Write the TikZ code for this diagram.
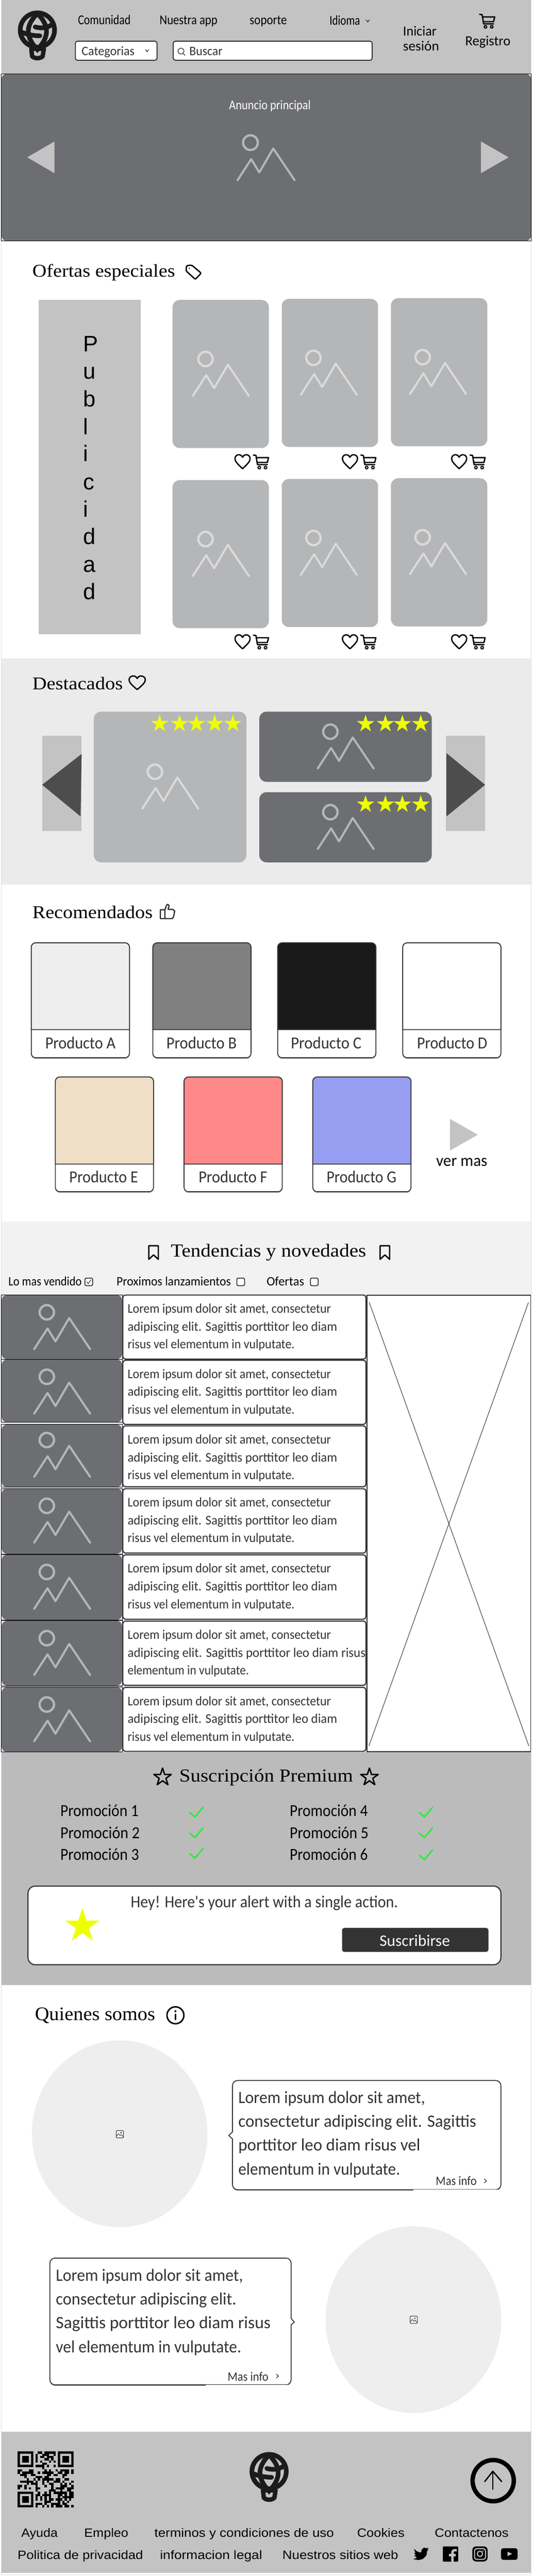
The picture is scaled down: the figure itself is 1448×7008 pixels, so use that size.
\documentclass[tikz,border=0pt]{standalone}
\usepackage{fontspec}
\setmainfont{Liberation Sans}
\newfontfamily\handf{Carlito}
\newfontfamily\serf{Liberation Serif}
\newfontfamily\sanf{Liberation Sans}
\definecolor{hdr}{HTML}{C3C3C3}
\definecolor{slate}{HTML}{6D6E71}
\definecolor{mid}{HTML}{B5B6B8}
\definecolor{pale}{HTML}{DADADA}
\definecolor{ink}{HTML}{333333}
\definecolor{logoc}{HTML}{1C1C1C}
\definecolor{destbg}{HTML}{EBEBEB}
\definecolor{trendbg}{HTML}{F2F2F2}
\definecolor{subbg}{HTML}{BBBBBB}
\definecolor{yel}{HTML}{EEFF00}
\definecolor{okgreen}{HTML}{22EE33}
\definecolor{blob}{HTML}{EEEEEE}
\definecolor{darkarrow}{HTML}{4D4D4D}
\definecolor{beigec}{HTML}{EFDFC7}
\definecolor{rosec}{HTML}{FF8888}
\definecolor{lavc}{HTML}{979DF0}
\definecolor{greyb}{HTML}{808080}
\definecolor{greyc}{HTML}{1A1A1A}
\newsavebox\fitbox
\newcounter{tn}
\newcommand\fitw[2]{\sbox\fitbox{#2}\pgfmathsetmacro\fitr{#1/\wd\fitbox}\scalebox{\fitr}[1]{\usebox\fitbox}}
\newcommand\hnd[1]{\handf\fontsize{#1}{#1}\selectfont}
\newcommand\srf[1]{\serf\fontsize{#1}{#1}\selectfont}
\newcommand\snf[1]{\sanf\fontsize{#1}{#1}\selectfont}
% [opts]{x}{baseline}{width}{font}{text}
\newcommand\lb[6][]{\stepcounter{tn}\node[lbl,#1] (t\thetn) at (#2,#3) {\fitw{#4}{#5#6}};}
\newcommand\imgicon[4]{\begin{scope}[shift={(#1,#2)},scale=#3]
 \draw[line width=6.2,color=#4] (35,23) circle (20);
 \draw[line width=5.6,color=#4,line cap=round,line join=round] (0,125)--(37,68)--(59,104)--(97,39)--(155,125);
\end{scope}}
\newcommand\logo[2]{\begin{scope}[shift={(#1,#2)},scale=1/3,line cap=round,color=logoc]
 \draw[line width=12.7] (215,185) circle (140);
 \draw[line width=12.7] (215,50) .. controls (116,150) and (116,240) .. (215,345) .. controls (314,240) and (314,150) .. (215,50);
 \draw[line width=12.7] (197,160) .. controls (240,172) and (290,172) .. (335,140);
 \draw[line width=12.7] (95,205) .. controls (130,222) and (180,232) .. (235,232);
 \draw[line width=12,line join=round] (165,338) -- (172,400) .. controls (195,420) and (235,420) .. (258,400) -- (268,338) -- cycle;
\end{scope}}
\newcommand\carticon[3]{\begin{scope}[shift={(#1,#2)},scale=#3,line join=round,line cap=round]
 \draw[line width=3.6] (0,1)--(7,2)--(11,27)--(38,27);
 \draw[line width=3.6] (8,8)--(41,8)--(38,21)--(10,21);
 \draw[line width=3] (16,35) circle (3.6);
 \draw[line width=3] (33,35) circle (3.6);
\end{scope}}
\newcommand\hearticon[4]{\begin{scope}[shift={(#1,#2)},xscale=#3,yscale=#4]
 \draw[line width=3.6,line join=round] (.5,1) .. controls (.1,.6) and (0,.45) .. (0,.27) .. controls (0,.08) and (.15,0) .. (.27,0) .. controls (.38,0) and (.46,.08) .. (.5,.18) .. controls (.54,.08) and (.62,0) .. (.73,0) .. controls (.85,0) and (1,.08) .. (1,.27) .. controls (1,.45) and (.9,.6) .. (.5,1) -- cycle;
\end{scope}}
\newcommand\starpath[2][]{\path[#1] (-90:#2)--(-54:.382*#2)--(-18:#2)--(18:.382*#2)--(54:#2)--(90:.382*#2)--(126:#2)--(162:.382*#2)--(198:#2)--(234:.382*#2)--cycle;}
\newcommand\ystar[3]{\begin{scope}[shift={(#1,#2)}]\starpath[fill=yel]{#3}\end{scope}}
\newcommand\ostar[3]{\begin{scope}[shift={(#1,#2)}]\starpath[draw=black,line width=3.8,line join=round]{#3}\end{scope}}
\newcommand\chk[2]{\draw[okgreen,line width=3.8,line cap=round,line join=round] (#1,#2+14) -- (#1+14,#2+26) -- (#1+36,#2);}
\newcommand\chev[2]{\draw[ink,line width=1.8,line join=round,line cap=round] (#1-4,#2-3)--(#1,#2+3)--(#1+4,#2-3);}
\newcommand\chevr[2]{\draw[ink,line width=1.8,line join=round,line cap=round] (#1-3,#2-5)--(#1+3,#2)--(#1-3,#2+5);}
\newcommand\prodcard[8]{% x top div bot colour labelx labelw label
 \fill[black!35,rounded corners=12] (#1,#2+4) rectangle (#1+267,#4+3);
 \draw[ink,line width=2.4,fill=white,rounded corners=12] (#1,#2) rectangle (#1+267,#4);
 \draw[ink,line width=2.4,fill=#5] (#1,#3) [rounded corners=12] -- (#1,#2) -- (#1+267,#2) [sharp corners] -- (#1+267,#3) -- cycle;
 \lb[text=ink]{#6}{#4-24.5}{#7}{\hnd{46}}{#8}}
\newcommand\cbox[2]{\draw[ink,line width=2.4,rounded corners=4,fill=white] (#1,#2) rectangle (#1+21,#2+20.5);}
\newcommand\smallimg[2]{\begin{scope}[shift={(#1,#2)}]
 \draw[ink,line width=1.4,rounded corners=2] (-10,-10) rectangle (10,10);
 \draw[ink,line width=1.2] (-10,6)--(-4,-1)--(1,4)--(4,1)--(10,8);
 \fill[ink] (3,-4) circle (2);
\end{scope}}
\tikzset{
 lbl/.style={anchor=base west,inner sep=0pt,outer sep=0pt},
 frame/.style={draw=black,line width=1},
 icon/.style={line width=3.6,line join=round,line cap=round},
 inputbox/.style={draw=ink,line width=2.6,fill=white,rounded corners=6},
 lorem/.style={draw=ink,line width=3,fill=white,rounded corners=7},
 callout/.style={draw=ink,line width=2.4,fill=white},
}
\begin{document}
\begin{tikzpicture}[x=1pt,y=-1pt]
\useasboundingbox (0,0) rectangle (1448,7008);
\fill[white] (0,0) rectangle (1448,7008);
\draw[black!12,line width=1] (3.5,-2) rectangle (1444.5,7004);

% ---------- header
\fill[hdr] (4,0) rectangle (1444,201);
\logo{30}{20}
\lb{212}{66}{143}{\hnd{37}}{Comunidad}
\lb{434}{66}{157}{\hnd{37}}{Nuestra app}
\lb{679}{66}{101}{\hnd{37}}{soporte}
\lb{896}{68}{83}{\hnd{37}}{Idioma}
\chev{1000}{57}
\draw[inputbox] (205,112) rectangle (427,164);
\lb[text=ink]{222}{151}{144}{\hnd{35}}{Categorias}
\chev{400}{138}
\draw[inputbox] (471,112) rectangle (1012,164);
\draw[ink,line width=1.8] (492,139) circle (8);
\draw[ink,line width=1.8] (498,145) -- (503,151);
\lb[text=ink]{515}{151}{90}{\hnd{35}}{Buscar}
\lb{1096}{98}{91}{\hnd{38}}{Iniciar}
\lb{1096}{138}{98}{\hnd{38}}{sesión}
\carticon{1304}{38}{1}
\lb{1265}{124}{123}{\hnd{38}}{Registro}

% ---------- banner
\fill[slate,rounded corners=14] (4,201) rectangle (1444,655);
\draw[frame] (4,201) rectangle (1444,655);
\lb[text=white]{623}{298}{222}{\hnd{36}}{Anuncio principal}
\imgicon{646}{365}{1}{mid}
\fill[hdr] (74,428)--(148,385)--(148,471)--cycle;
\fill[hdr] (1308,385)--(1308,471)--(1383,428)--cycle;

% ---------- ofertas
\lb{88}{754}{388}{\srf{49}}{Ofertas especiales}
\draw[icon,rounded corners=3] (507,723)--(521,721)--(547,743)--(531,760)--(506,737)--cycle;
\fill (515,730) circle (1.8);
\fill[hdr] (105,816) rectangle (383,1725);
\foreach \ltr/\bl in {P/957,u/1031,b/1106,l/1182,i/1255,c/1332,i/1407,d/1481,a/1557,d/1631}{
 \node[lbl] (pub\bl) at (226,\bl) {\snf{61}\ltr};
}
\foreach \cx/\ctop/\hx/\cart/\ix in {469/816/639/689/524.5,766/813/931/981/818,1063/811/1228/1278/1115}{
 \foreach \row in {0,490}{
  \fill[mid,rounded corners=20] (\cx,\ctop+\row) rectangle (\cx+262,\ctop+\row+403);
  \imgicon{\ix}{\ctop+\row+138}{.98}{pale}
  \hearticon{\hx}{1237+\row}{41}{38}
  \carticon{\cart}{1237+\row}{1}
 }
}

% ---------- destacados
\fill[destbg] (4,1791) rectangle (1444,2406);
\lb{88}{1876}{246}{\srf{49}}{Destacados}
\hearticon{351}{1839}{44}{37}
\fill[hdr] (115,2002) rectangle (222,2261);
\fill[darkarrow] (222,2051)--(114.5,2135)--(219,2221)--cycle;
\fill[hdr] (1212,2002) rectangle (1319,2261);
\fill[darkarrow] (1214,2049)--(1319,2135)--(1214,2221)--cycle;
\fill[mid,rounded corners=20] (255,1936) rectangle (670,2346);
\foreach \s in {434,488,534,584,633}{\ystar{\s}{1969}{25}}
\imgicon{387}{2077}{.98}{pale}
\foreach \ty in {1936,2155}{
 \fill[slate,rounded corners=20] (705,\ty) rectangle (1174,\ty+191);
 \imgicon{864}{\ty+32}{.98}{mid}
 \foreach \s in {994,1048,1094,1144}{\ystar{\s}{\ty+33.5}{25}}
}

% ---------- recomendados
\lb{88}{2499}{327}{\srf{49}}{Recomendados}
\begin{scope}[shift={(420,2450)},scale=1/3,color=ink]
 \draw[line width=3.4,line join=round,rounded corners=1] (85,75)--(48,75)--(48,147)--(145,147)--(155,135)--(165,85)--(150,72)--(110,72)--(120,45)--(110,30)--(100,35)--(85,75)--(85,147);
\end{scope}
\prodcard{85}{2565}{2801}{2877.5}{blob}{123}{191}{Producto A}
\prodcard{415.5}{2565}{2801}{2877.5}{greyb}{452.5}{191}{Producto B}
\prodcard{755}{2565}{2801}{2877.5}{greyc}{791}{192}{Producto C}
\prodcard{1095}{2565}{2801}{2877.5}{white}{1134}{191}{Producto D}
\prodcard{150.5}{2930}{3167}{3242}{beigec}{188.5}{187}{Producto E}
\prodcard{500.5}{2930}{3167}{3242}{rosec}{540}{187}{Producto F}
\prodcard{850.5}{2930}{3167}{3242}{lavc}{888}{190}{Producto G}
\fill[hdr] (1223.5,3044)--(1223.5,3130)--(1299,3087)--cycle;
\lb{1186}{3173}{139}{\hnd{45}}{ver mas}

% ---------- tendencias
\fill[trendbg] (4,3322.5) rectangle (1444,4767);
\lb{464.5}{3419}{531}{\srf{50}}{Tendencias y novedades}
\foreach \bx in {404.5,1033.5}{
 \draw[icon] (\bx,3389)--(\bx+26,3389)--(\bx+26,3426)--(\bx+13,3414)--(\bx,3426)--cycle;
}
\lb{23}{3497}{199}{\hnd{35}}{Lo mas vendido}
\cbox{231}{3477}
\draw[ink,line width=1.6,line cap=round] (236,3487)--(240,3492)--(247,3482);
\lb{317}{3497}{311}{\hnd{35}}{Proximos lanzamientos}
\cbox{644}{3477}
\lb{725}{3497}{102}{\hnd{35}}{Ofertas}
\cbox{844}{3477}
\foreach \imt/\imb/\io/\bt/\bb in {3522.5/3698/25/3523/3697.5,3698/3869.5/25/3700.6/3875,3875/4046/20/3879/4044.6,4049/4227/25/4050/4225,4229/4407/25/4230/4405,4409/4586/25/4410/4585,4589.5/4766.5/25/4590.5/4764.5}{
 \fill[white] (334,\bt) rectangle (995,\bb);
 \fill[slate,rounded corners=16] (4,\imt) rectangle (332.5,\imb);
 \draw[frame] (4,\imt) rectangle (332.5,\imb);
 \imgicon{93}{\imt+\io}{.98}{mid}
 \draw[lorem] (334,\bt) rectangle (995,\bb);
}
\foreach \bt in {3523,3700.6,3879,4050,4230,4590.5}{
 \lb[text=ink]{347}{\bt+49}{553}{\hnd{36}}{Lorem ipsum dolor sit amet, consectetur}
 \lb[text=ink]{347}{\bt+97.5}{570}{\hnd{36}}{adipiscing elit. Sagittis porttitor leo diam}
 \lb[text=ink]{347}{\bt+146}{454}{\hnd{36}}{risus vel elementum in vulputate.}
}
\lb[text=ink]{347}{4459}{553}{\hnd{36}}{Lorem ipsum dolor sit amet, consectetur}
\lb[text=ink]{347}{4507.5}{647}{\hnd{36}}{adipiscing elit. Sagittis porttitor leo diam risus}
\lb[text=ink]{347}{4556}{330}{\hnd{36}}{elementum in vulputate.}
\draw[ink,line width=2,fill=white] (998,3523.4) rectangle (1443,4765.6);
\draw[ink,line width=1.4] (1004,3543)--(1438,4750);
\draw[ink,line width=1.4] (1437,3543)--(1003,4750);

% ---------- suscripcion
\fill[subbg] (4,4767) rectangle (1444,5400);
\lb{487.5}{4848}{472.5}{\srf{50}}{Suscripción Premium}
\ostar{442}{4835}{25}
\ostar{1004.5}{4835}{25}
\lb{164}{4941}{213}{\hnd{46}}{Promoción 1}
\lb{164}{5001}{216}{\hnd{46}}{Promoción 2}
\lb{164}{5061}{214}{\hnd{46}}{Promoción 3}
\lb{788}{4941}{212}{\hnd{46}}{Promoción 4}
\lb{788}{5001}{214}{\hnd{46}}{Promoción 5}
\lb{788}{5061}{212}{\hnd{46}}{Promoción 6}
\chk{516}{4917}\chk{516}{4973}\chk{516}{5029}
\chk{1140}{4917}\chk{1140}{4973}\chk{1140}{5033}
\draw[ink,line width=3,fill=white,rounded corners=20] (76,5131) rectangle (1362,5345);
\lb[text=ink]{355.5}{5189}{726.5}{\hnd{46}}{Hey! Here's your alert with a single action.}
\ystar{224}{5240}{49}
\fill[ink,rounded corners=6] (930,5245) rectangle (1328,5310);
\lb[text=white]{1032}{5294}{191.5}{\hnd{44}}{Suscribirse}

% ---------- quienes somos
\lb{95}{5497}{327}{\srf{52}}{Quienes somos}
\draw[line width=4] (477,5482.5) circle (23);
\fill (477,5471.5) circle (2.8);
\draw[line width=4,line cap=round] (477,5480)--(477,5494);
\fill[blob] (325.5,5805) ellipse (238.5 and 254);
\smallimg{326}{5806}
\fill[blob] (1124.2,6310.5) ellipse (238.8 and 254);
\smallimg{1125}{6311}
% callout 1
\fill[black!35,rounded corners=14] (632,5700) rectangle (1362,5960);
\draw[callout] (632,5800) [rounded corners=14] -- (632,5660) -- (1362,5660) -- (1362,5957) -- (632,5957) [sharp corners] -- (632,5819) -- (622,5809.5) -- cycle;
\fill[white] (1124,5957) rectangle (1358,5961);
\lb[text=ink]{648}{5721.4}{508}{\hnd{47}}{Lorem ipsum dolor sit amet,}
\lb[text=ink]{648}{5786.5}{647}{\hnd{47}}{consectetur adipiscing elit. Sagittis}
\lb[text=ink]{648}{5851.5}{495}{\hnd{47}}{porttitor leo diam risus vel}
\lb[text=ink]{648}{5916.6}{440}{\hnd{47}}{elementum in vulputate.}
\lb[text=ink]{1185}{5945}{111}{\hnd{35}}{Mas info}
\chevr{1320}{5933}
% callout 2
\fill[black!35,rounded corners=14] (135.7,6200) rectangle (791.4,6491);
\draw[callout] (791.4,6325) [rounded corners=14] -- (791.4,6488) -- (135.7,6488) -- (135.7,6143) -- (791.4,6143) [sharp corners] -- (791.4,6307) -- (800,6317) -- cycle;
\fill[white] (559,6488) rectangle (787,6492);
\lb[text=ink]{152}{6205}{509}{\hnd{47}}{Lorem ipsum dolor sit amet,}
\lb[text=ink]{152}{6270}{491}{\hnd{47}}{consectetur adipiscing elit.}
\lb[text=ink]{152}{6335}{584}{\hnd{47}}{Sagittis porttitor leo diam risus}
\lb[text=ink]{152}{6400}{504}{\hnd{47}}{vel elementum in vulputate.}
\lb[text=ink]{619}{6477}{111}{\hnd{35}}{Mas info}
\chevr{754.5}{6464}

% ---------- footer
\fill[hdr] (4,6616) rectangle (1444,6999);
% qr
\begin{scope}[shift={(48,6669)},scale=6.08]
 \pgfmathsetseed{7}
 \foreach \qr in {0,...,24}{\foreach \qc in {0,...,24}{
  \pgfmathrandominteger{\qv}{0}{9}
  \ifnum\qv<5\relax
   \ifnum\qr<8\relax\ifnum\qc<8\relax\def\qv{9}\fi\ifnum\qc>16\relax\def\qv{9}\fi\fi
   \ifnum\qr>16\relax\ifnum\qc<8\relax\def\qv{9}\fi\fi
   \ifnum\qv<5\relax\fill (\qc,\qr) rectangle +(1.03,1.03);\fi
  \fi
 }}
 \foreach \fx/\fy in {0/0,18/0,0/18}{
  \fill[even odd rule] (\fx,\fy) rectangle +(7,7) (\fx+1,\fy+1) rectangle +(5,5);
  \fill (\fx+2,\fy+2) rectangle +(3,3);
 }
\end{scope}
\logo{660}{6662}
\draw[line width=12] (1341,6748.5) circle (56);
\draw[line width=3.6,line cap=round,line join=round] (1340,6772)--(1340,6723);
\draw[line width=3.6,line cap=round,line join=round] (1318,6751)--(1340,6723)--(1364,6751);
\lb{58}{6902}{99}{\snf{33}}{Ayuda}
\lb{229}{6902}{120}{\snf{33}}{Empleo}
\lb{420}{6902}{488}{\snf{33}}{terminos y condiciones de uso}
\lb{971}{6902}{129}{\snf{33}}{Cookies}
\lb{1182}{6902}{201}{\snf{33}}{Contactenos}
\lb{48}{6962}{341}{\snf{33}}{Politica de privacidad}
\lb{435}{6962}{278}{\snf{33}}{informacion legal}
\lb{768}{6962}{315}{\snf{33}}{Nuestros sitios web}
\begin{scope}[shift={(1110,6915)},scale=1/3]
 % twitter
 \fill[line join=round] plot[smooth cycle,tension=.35] coordinates {(47,57) (72,78) (105,87) (108,68) (128,47) (148,53) (165,48) (155,66) (166,62) (154,76) (148,110) (120,138) (85,148) (42,140) (70,131) (50,112) (62,110) (48,92) (58,90)};
 % facebook
 \fill[rounded corners=2] (282,37) rectangle (407,162);
 \draw[hdr,line width=6.4] (360,162)--(360,88) .. controls (360,72) and (372,66) .. (395,68);
 \draw[hdr,line width=6] (334,108)--(388,108);
 % instagram
 \fill[rounded corners=10] (523,37) rectangle (647,160);
 \draw[hdr,line width=2.8,rounded corners=6] (541,55) rectangle (630,143);
 \draw[hdr,line width=2.8] (585,98) circle (22);
 \fill[hdr] (610,75) circle (5.5);
 % youtube
 \fill[rounded corners=6] (757,52) rectangle (892,147);
 \fill[hdr] (810,80)--(848,98)--(810,116)--cycle;
\end{scope}
\end{tikzpicture}
\end{document}
